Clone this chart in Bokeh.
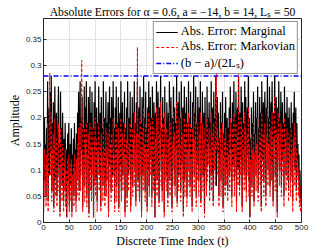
from bokeh.plotting import figure
from bokeh.models import FixedTicker, Range1d, Legend, LegendItem, ColumnDataSource
from bokeh.embed import file_html
from bokeh.resources import INLINE

title_text = "Absolute Errors for α ≡ 0.6, a ≡ −14, b ≡ 14, Lₛ ≡ 50"
x_label = "Discrete Time Index (t)"
y_label = "Amplitude"
legend_labels = ["Abs. Error: Marginal", "Abs. Error: Markovian", "(b − a)/(2Lₛ)"]

x_ticks = [0, 50, 100, 150, 200, 250, 300, 350, 400, 450, 500]
y_ticks = [0, 0.05, 0.1, 0.15, 0.2, 0.25, 0.3, 0.35]
y_tick_labels = ["0", "0.05", "0.1", "0.15", "0.2", "0.25", "0.3", "0.35"]

bound_value = 0.28
x_limits = [0, 500]
y_limits = [0, 0.39]

marginal = [
    0.02, 0.12, 0.20, 0.08, 0.15, 0.05, 0.18, 0.11, 0.27, 0.04, 0.16, 0.22, 0.09, 0.25, 0.13, 0.28, 0.06, 0.19, 0.10, 0.23,
    0.03, 0.14, 0.26, 0.08, 0.17, 0.21, 0.05, 0.12, 0.19, 0.26, 0.09, 0.15, 0.02, 0.25, 0.11, 0.18, 0.07, 0.21, 0.13, 0.04,
    0.16, 0.10, 0.19, 0.06, 0.14, 0.01, 0.12, 0.17, 0.08, 0.19, 0.03, 0.11, 0.15, 0.07, 0.18, 0.02, 0.13, 0.09, 0.16, 0.05,
    0.19, 0.10, 0.14, 0.04, 0.17, 0.08, 0.21, 0.12, 0.25, 0.06, 0.16, 0.27, 0.09, 0.20, 0.14, 0.24, 0.03, 0.18, 0.11, 0.26,
    0.07, 0.22, 0.15, 0.27, 0.05, 0.19, 0.12, 0.24, 0.02, 0.17, 0.26, 0.10, 0.21, 0.06, 0.25, 0.14, 0.18, 0.01, 0.23, 0.11,
    0.27, 0.08, 0.16, 0.22, 0.04, 0.19, 0.13, 0.26, 0.09, 0.15, 0.21, 0.03, 0.24, 0.12, 0.18, 0.07, 0.27, 0.10, 0.20, 0.05,
    0.14, 0.25, 0.08, 0.19, 0.12, 0.23, 0.02, 0.17, 0.26, 0.11, 0.20, 0.06, 0.24, 0.15, 0.09, 0.27, 0.13, 0.18, 0.04, 0.22,
    0.10, 0.26, 0.07, 0.19, 0.14, 0.24, 0.03, 0.17, 0.21, 0.11, 0.27, 0.06, 0.16, 0.23, 0.09, 0.19, 0.13, 0.25, 0.02, 0.18,
    0.12, 0.22, 0.05, 0.27, 0.15, 0.09, 0.20, 0.14, 0.25, 0.03, 0.18, 0.11, 0.24, 0.07, 0.21, 0.16, 0.27, 0.10, 0.19, 0.04,
    0.23, 0.13, 0.27, 0.08, 0.17, 0.22, 0.05, 0.26, 0.12, 0.19, 0.02, 0.24, 0.15, 0.09, 0.28, 0.11, 0.20, 0.06, 0.25, 0.14,
    0.18, 0.03, 0.22, 0.10, 0.27, 0.07, 0.16, 0.24, 0.12, 0.20, 0.05, 0.26, 0.14, 0.09, 0.23, 0.17, 0.01, 0.21, 0.11, 0.27,
    0.08, 0.19, 0.25, 0.13, 0.04, 0.22, 0.16, 0.28, 0.10, 0.18, 0.06, 0.24, 0.14, 0.20, 0.02, 0.26, 0.12, 0.17, 0.09, 0.23,
    0.15, 0.05, 0.21, 0.11, 0.27, 0.08, 0.18, 0.24, 0.13, 0.03, 0.20, 0.16, 0.26, 0.10, 0.22, 0.07, 0.19, 0.14, 0.28, 0.04,
    0.17, 0.23, 0.09, 0.25, 0.12, 0.20, 0.06, 0.27, 0.15, 0.11, 0.22, 0.02, 0.18, 0.26, 0.08, 0.21, 0.13, 0.24, 0.05, 0.19,
    0.10, 0.27, 0.14, 0.20, 0.07, 0.25, 0.12, 0.18, 0.03, 0.23, 0.16, 0.28, 0.09, 0.21, 0.13, 0.26, 0.05, 0.19, 0.11, 0.24,
    0.17, 0.08, 0.22, 0.14, 0.27, 0.04, 0.19, 0.12, 0.25, 0.09, 0.16, 0.21, 0.02, 0.24, 0.13, 0.18, 0.07, 0.26, 0.11, 0.20,
    0.15, 0.23, 0.06, 0.19, 0.12, 0.27, 0.09, 0.17, 0.22, 0.04, 0.25, 0.14, 0.20, 0.10, 0.28, 0.07, 0.18, 0.24, 0.13, 0.21,
    0.05, 0.16, 0.11, 0.23, 0.08, 0.19, 0.14, 0.25, 0.03, 0.17, 0.12, 0.21, 0.07, 0.24, 0.15, 0.10, 0.20, 0.06, 0.18, 0.13,
    0.22, 0.09, 0.26, 0.14, 0.19, 0.05, 0.23, 0.11, 0.17, 0.27, 0.08, 0.20, 0.13, 0.25, 0.04, 0.18, 0.22, 0.10, 0.28, 0.15,
    0.07, 0.21, 0.12, 0.26, 0.17, 0.03, 0.23, 0.14, 0.19, 0.09, 0.27, 0.11, 0.24, 0.06, 0.18, 0.22, 0.13, 0.28, 0.08, 0.20,
    0.01, 0.16, 0.11, 0.22, 0.07, 0.19, 0.14, 0.25, 0.04, 0.17, 0.12, 0.23, 0.09, 0.20, 0.15, 0.26, 0.06, 0.18, 0.13, 0.24,
    0.10, 0.21, 0.03, 0.27, 0.16, 0.12, 0.23, 0.08, 0.19, 0.25, 0.14, 0.05, 0.22, 0.17, 0.28, 0.10, 0.20, 0.13, 0.26, 0.07,
    0.18, 0.23, 0.11, 0.27, 0.15, 0.04, 0.21, 0.16, 0.28, 0.09, 0.19, 0.24, 0.12, 0.02, 0.22, 0.17, 0.27, 0.10, 0.20, 0.14,
    0.25, 0.07, 0.18, 0.23, 0.12, 0.19, 0.05, 0.26, 0.14, 0.21, 0.09, 0.17, 0.24, 0.11, 0.20, 0.06, 0.22, 0.15, 0.18, 0.08,
    0.23, 0.13, 0.19, 0.04, 0.21, 0.16, 0.25, 0.10, 0.17, 0.22, 0.06, 0.19, 0.12, 0.15, 0.08, 0.13, 0.05, 0.10, 0.04, 0.07, 0.03,
]

markovian = [
    0.01, 0.08, 0.14, 0.05, 0.11, 0.03, 0.13, 0.07, 0.19, 0.02, 0.12, 0.17, 0.285, 0.16, 0.09, 0.21, 0.04, 0.14, 0.06, 0.17,
    0.02, 0.10, 0.20, 0.05, 0.13, 0.16, 0.03, 0.09, 0.14, 0.19, 0.06, 0.11, 0.01, 0.18, 0.08, 0.13, 0.04, 0.15, 0.09, 0.02,
    0.12, 0.06, 0.14, 0.03, 0.10, 0.01, 0.08, 0.12, 0.05, 0.13, 0.02, 0.07, 0.11, 0.04, 0.12, 0.01, 0.09, 0.06, 0.11, 0.03,
    0.13, 0.06, 0.10, 0.02, 0.12, 0.05, 0.15, 0.08, 0.18, 0.04, 0.11, 0.19, 0.06, 0.14, 0.31, 0.17, 0.02, 0.13, 0.07, 0.18,
    0.04, 0.16, 0.10, 0.19, 0.03, 0.13, 0.08, 0.17, 0.01, 0.12, 0.19, 0.06, 0.15, 0.04, 0.18, 0.09, 0.13, 0.01, 0.16, 0.07,
    0.20, 0.05, 0.11, 0.16, 0.02, 0.14, 0.09, 0.19, 0.06, 0.10, 0.15, 0.02, 0.17, 0.08, 0.13, 0.04, 0.20, 0.07, 0.14, 0.03,
    0.10, 0.18, 0.05, 0.14, 0.08, 0.17, 0.01, 0.12, 0.19, 0.07, 0.15, 0.04, 0.17, 0.10, 0.06, 0.20, 0.09, 0.13, 0.02, 0.16,
    0.07, 0.19, 0.04, 0.14, 0.10, 0.18, 0.02, 0.12, 0.16, 0.08, 0.20, 0.04, 0.11, 0.17, 0.06, 0.14, 0.09, 0.19, 0.01, 0.13,
    0.08, 0.16, 0.03, 0.20, 0.11, 0.06, 0.15, 0.10, 0.19, 0.02, 0.13, 0.08, 0.18, 0.05, 0.15, 0.11, 0.21, 0.07, 0.14, 0.03,
    0.17, 0.09, 0.335, 0.06, 0.12, 0.17, 0.04, 0.20, 0.09, 0.14, 0.01, 0.18, 0.11, 0.06, 0.22, 0.08, 0.15, 0.04, 0.19, 0.10,
    0.14, 0.02, 0.17, 0.07, 0.21, 0.05, 0.12, 0.19, 0.09, 0.15, 0.03, 0.20, 0.10, 0.06, 0.18, 0.13, 0.01, 0.16, 0.08, 0.22,
    0.05, 0.14, 0.20, 0.09, 0.03, 0.17, 0.12, 0.23, 0.07, 0.13, 0.04, 0.19, 0.10, 0.15, 0.01, 0.21, 0.08, 0.13, 0.06, 0.18,
    0.11, 0.03, 0.16, 0.08, 0.22, 0.05, 0.14, 0.19, 0.09, 0.02, 0.15, 0.12, 0.21, 0.07, 0.17, 0.05, 0.14, 0.10, 0.23, 0.03,
    0.13, 0.18, 0.06, 0.20, 0.09, 0.15, 0.04, 0.21, 0.11, 0.08, 0.17, 0.01, 0.14, 0.20, 0.05, 0.16, 0.09, 0.19, 0.03, 0.14,
    0.07, 0.21, 0.10, 0.15, 0.05, 0.19, 0.09, 0.13, 0.02, 0.18, 0.12, 0.22, 0.06, 0.16, 0.10, 0.20, 0.03, 0.14, 0.08, 0.19,
    0.13, 0.05, 0.17, 0.10, 0.21, 0.03, 0.14, 0.09, 0.19, 0.06, 0.12, 0.16, 0.01, 0.18, 0.10, 0.14, 0.05, 0.20, 0.08, 0.15,
    0.11, 0.18, 0.04, 0.14, 0.09, 0.21, 0.06, 0.13, 0.17, 0.03, 0.19, 0.10, 0.15, 0.07, 0.22, 0.29, 0.14, 0.18, 0.09, 0.16,
    0.03, 0.12, 0.08, 0.18, 0.05, 0.14, 0.10, 0.19, 0.02, 0.13, 0.09, 0.16, 0.05, 0.18, 0.11, 0.07, 0.15, 0.04, 0.13, 0.09,
    0.17, 0.06, 0.20, 0.10, 0.14, 0.03, 0.18, 0.08, 0.12, 0.21, 0.05, 0.15, 0.09, 0.19, 0.02, 0.13, 0.17, 0.07, 0.29, 0.11,
    0.05, 0.16, 0.09, 0.20, 0.13, 0.02, 0.18, 0.10, 0.14, 0.06, 0.21, 0.08, 0.18, 0.04, 0.13, 0.17, 0.09, 0.22, 0.05, 0.15,
    0.01, 0.12, 0.08, 0.17, 0.05, 0.14, 0.10, 0.19, 0.03, 0.13, 0.09, 0.17, 0.06, 0.15, 0.11, 0.20, 0.04, 0.13, 0.09, 0.18,
    0.07, 0.16, 0.02, 0.21, 0.12, 0.08, 0.17, 0.05, 0.14, 0.19, 0.10, 0.03, 0.16, 0.12, 0.22, 0.07, 0.15, 0.09, 0.20, 0.05,
    0.13, 0.18, 0.08, 0.21, 0.11, 0.03, 0.16, 0.12, 0.24, 0.06, 0.14, 0.18, 0.09, 0.01, 0.17, 0.12, 0.21, 0.07, 0.15, 0.10,
    0.19, 0.05, 0.13, 0.18, 0.09, 0.14, 0.03, 0.20, 0.10, 0.16, 0.06, 0.12, 0.18, 0.08, 0.15, 0.04, 0.17, 0.11, 0.13, 0.05,
    0.18, 0.09, 0.14, 0.02, 0.16, 0.12, 0.19, 0.07, 0.13, 0.17, 0.04, 0.14, 0.09, 0.11, 0.05, 0.10, 0.03, 0.07, 0.02, 0.05, 0.01,
]

t_marg = list(range(len(marginal)))
t_markov = list(range(len(markovian)))

AX = "#262626"
SERIF = "Liberation Serif"
SANS = "Liberation Sans"

p = figure(width=333, height=250, output_backend="svg", toolbar_location=None,
           x_range=Range1d(*x_limits), y_range=Range1d(*y_limits),
           min_border_left=43, min_border_right=32, min_border_top=18, min_border_bottom=26)

p.title.text = title_text
p.title.text_font = SERIF
p.title.text_font_size = "11.7px"
p.title.text_font_style = "normal"
p.title.align = "center"
p.title.text_color = "black"
p.title.standoff = 0
p.title.offset = 0

p.background_fill_color = "white"
p.border_fill_color = "white"
p.outline_line_color = AX
p.outline_line_width = 1
p.outline_line_alpha = 1

for ax in (p.xaxis, p.yaxis):
    ax.major_label_text_font = SANS
    ax.major_label_text_font_size = "8px"
    ax.major_label_text_color = AX
    ax.major_tick_in = 3
    ax.major_tick_out = 0
    ax.minor_tick_line_color = None
    ax.axis_line_color = AX
    ax.major_tick_line_color = AX
    ax.axis_label_text_font = SERIF
    ax.axis_label_text_font_size = "12px"
    ax.axis_label_text_font_style = "normal"
    ax.axis_label_text_color = "black"
    ax.major_label_standoff = 2
    ax.axis_label_standoff = 1

p.xaxis.ticker = FixedTicker(ticks=x_ticks)
p.yaxis.ticker = FixedTicker(ticks=y_ticks)
p.yaxis.major_label_overrides = {v: s for v, s in zip(y_ticks, y_tick_labels)}
p.xaxis.axis_label = x_label
p.yaxis.axis_label = y_label

p.xgrid.ticker = FixedTicker(ticks=x_ticks)
p.ygrid.ticker = FixedTicker(ticks=y_ticks)
p.xgrid.grid_line_color = "#e3e3e3"
p.ygrid.grid_line_color = "#e3e3e3"

src_m = ColumnDataSource(dict(t=t_marg, e=marginal))
src_k = ColumnDataSource(dict(t=t_markov, e=markovian))
r1 = p.line("t", "e", source=src_m, line_color="black", line_width=1.2)
r2 = p.line("t", "e", source=src_k, line_color="red", line_width=1, line_dash="3 2")
r3 = p.line(x_limits, [bound_value, bound_value], line_color="blue", line_width=1.5, line_dash="5 2 1 2")

legend = Legend(items=[LegendItem(label=legend_labels[0], renderers=[r1]),
                       LegendItem(label=legend_labels[1], renderers=[r2]),
                       LegendItem(label=legend_labels[2], renderers=[r3])],
                location="top_right")
legend.border_line_color = AX
legend.border_line_width = 1
legend.background_fill_color = "white"
legend.background_fill_alpha = 1
legend.label_text_font = SERIF
legend.label_text_font_size = "12.5px"
legend.label_text_color = "black"
legend.glyph_width = 22
legend.glyph_height = 12
legend.label_height = 12
legend.spacing = -1
legend.padding = 2
legend.margin = 3
legend.label_standoff = 3
p.add_layout(legend, "center")

open("out.html", "w").write(file_html(p, INLINE))
